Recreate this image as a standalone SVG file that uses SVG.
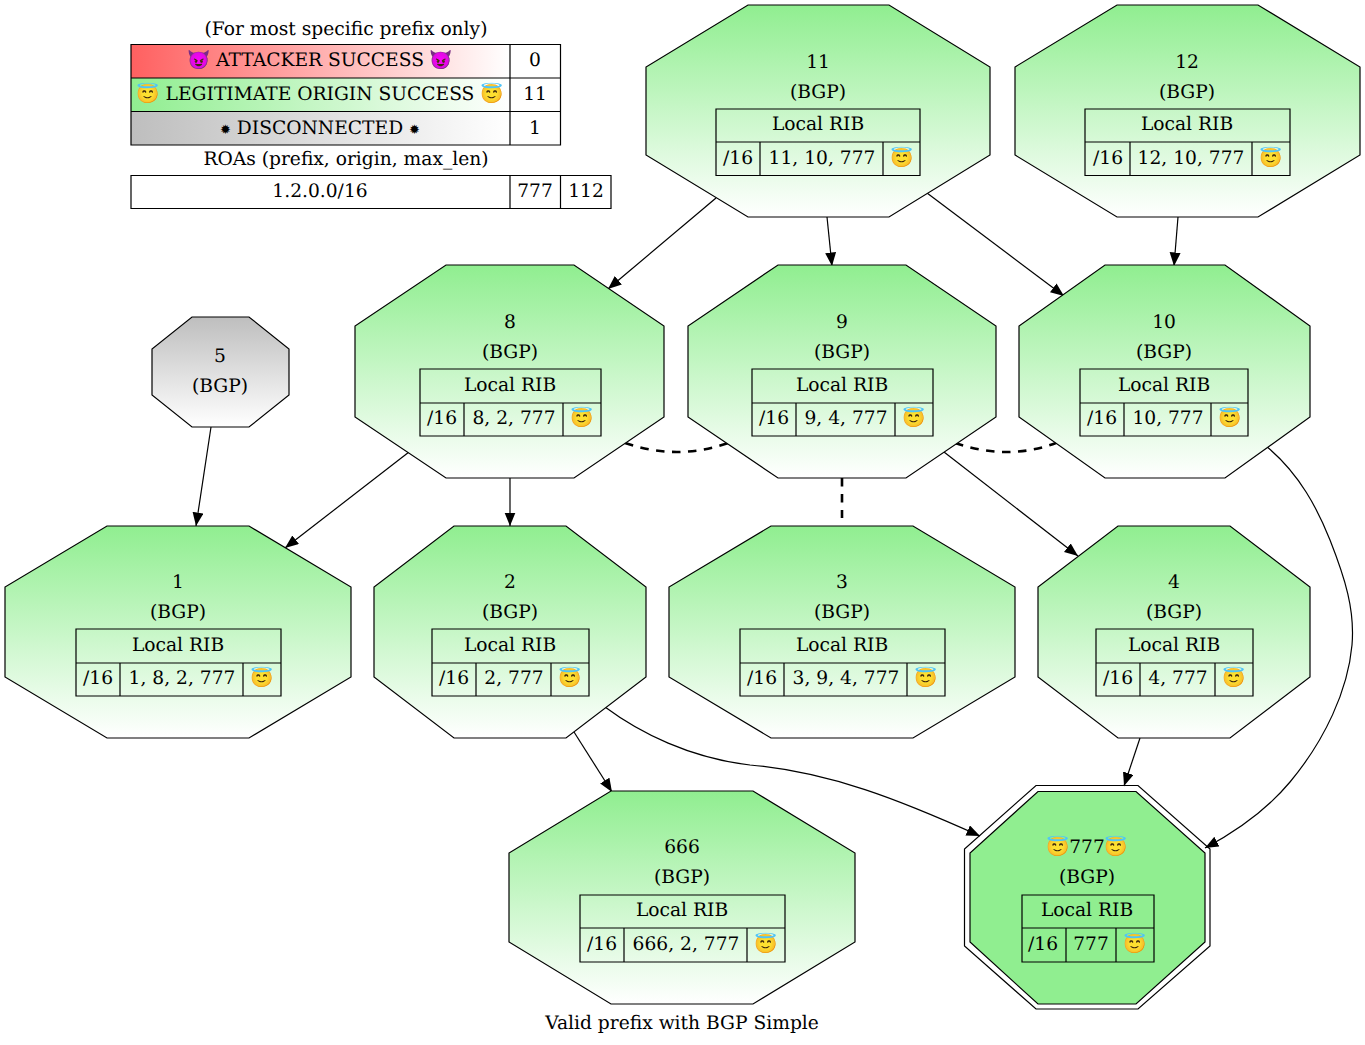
<svg xmlns="http://www.w3.org/2000/svg" width="1365" height="1045" viewBox="0 0 1365 1045">
<style>
text{font-family:"DejaVu Serif","Noto Color Emoji",serif;font-size:18.67px;text-anchor:middle;fill:#000;text-rendering:geometricPrecision}
.oct{fill:url(#gg);stroke:#000;stroke-width:1.2}
.t{fill:none;stroke:#000;stroke-width:1.2}
.e{fill:none;stroke:#000;stroke-width:1.2;marker-end:url(#ah)}
.d{fill:none;stroke:#000;stroke-width:2.6;stroke-dasharray:8.5 7.5}
.s{font-size:13px}
</style>
<defs>
<linearGradient id="gg" x1="0" y1="0" x2="0" y2="1"><stop offset="0" stop-color="#90ee90"/><stop offset="1" stop-color="#fff"/></linearGradient>
<linearGradient id="gy" x1="0" y1="0" x2="0" y2="1"><stop offset="0" stop-color="#bebebe"/><stop offset="1" stop-color="#fff"/></linearGradient>
<linearGradient id="lr"><stop offset="0" stop-color="#ff6060"/><stop offset="1" stop-color="#fff"/></linearGradient>
<linearGradient id="lg"><stop offset="0" stop-color="#90ee90"/><stop offset="1" stop-color="#fff"/></linearGradient>
<linearGradient id="ly"><stop offset="0" stop-color="#bebebe"/><stop offset="1" stop-color="#fff"/></linearGradient>
<marker id="ah" markerUnits="userSpaceOnUse" markerWidth="14" markerHeight="12" refX="13.5" refY="5.5" orient="auto"><path d="M0 0L13.5 5.5L0 11Z" fill="#000"/></marker>
</defs>
<g id="legend">
<text x="346" y="35">(For most specific prefix only)</text>
<rect x="131" y="44.500" width="379" height="33.500" fill="url(#lr)"/>
<rect x="131" y="78" width="379" height="33.500" fill="url(#lg)"/>
<rect x="131" y="111.500" width="379" height="33.500" fill="url(#ly)"/>
<path class="t" d="M131 44.500H560.500V145H131ZM131 78H560.500M131 111.500H560.500M510 44.500V145"/>
<text x="320" y="66">😈 ATTACKER SUCCESS 😈</text><text x="535" y="66">0</text>
<text x="320" y="100">😇 LEGITIMATE ORIGIN SUCCESS 😇</text><text x="535" y="100">11</text>
<text x="320" y="133.500"><tspan class="s">✹</tspan> DISCONNECTED <tspan class="s">✹</tspan></text><text x="535" y="133.500">1</text>
<text x="346" y="165">ROAs (prefix, origin, max_len)</text>
<path class="t" d="M131 175.500H611V208.500H131ZM510 175.500V208.500M560.500 175.500V208.500"/>
<text x="320" y="197">1.2.0.0/16</text><text x="535" y="197">777</text><text x="586" y="197">112</text>
</g>
<g id="connectors">
<path class="e" d="M716 198L608 289"/>
<path class="e" d="M827 217L832 266"/>
<path class="e" d="M927 193L1064 296"/>
<path class="e" d="M1178 217L1174 266"/>
<path class="e" d="M211 427L196 526"/>
<path class="e" d="M409 452L285 548"/>
<path class="e" d="M510 478V526"/>
<path class="e" d="M944 452L1078 556"/>
<path class="d" d="M842 478V518"/>
<path class="d" d="M625 443C660 455 694 455 728 443"/>
<path class="d" d="M955 443C990 455 1024 455 1056 443"/>
<path class="e" d="M1266 446C1300 474 1318 510 1330 540C1345 578 1355 610 1352 645C1348 690 1325 740 1290 782C1265 812 1235 832 1205 848"/>
<path class="e" d="M574 732L612 792"/>
<path class="e" d="M605 707C640 733 690 758 750 765C830 772 900 800 980 836"/>
<path class="e" d="M1140 738L1124 786"/>
</g>
<g id="n11"><path class="oct" d="M748 5H889L990 67V155L889 217H748L646 155V67Z"/><text x="818" y="68">11</text><text x="818" y="98">(BGP)</text><path class="t" d="M716 109H920V175.500H716ZM716 142H920M760 142V175.500M883 142V175.500"/><text x="818" y="130">Local RIB</text><text x="738" y="164">/16</text><text x="822" y="164">11, 10, 777</text><text x="902" y="164">😇</text></g>
<g id="n12"><path class="oct" d="M1117 5H1258L1360 67V155L1258 217H1117L1015 155V67Z"/><text x="1187" y="68">12</text><text x="1187" y="98">(BGP)</text><path class="t" d="M1085 109H1290V175.500H1085ZM1085 142H1290M1130 142V175.500M1252 142V175.500"/><text x="1187" y="130">Local RIB</text><text x="1108" y="164">/16</text><text x="1191" y="164">12, 10, 777</text><text x="1271" y="164">😇</text></g>
<g id="n8"><path class="oct" d="M446 265H574L664 326V417L574 478H446L355 417V326Z"/><text x="510" y="328">8</text><text x="510" y="358">(BGP)</text><path class="t" d="M420 369H601V436H420ZM420 403H601M464 403V436M563 403V436"/><text x="510" y="391">Local RIB</text><text x="442" y="424">/16</text><text x="514" y="424">8, 2, 777</text><text x="582" y="424">😇</text></g>
<g id="n9"><path class="oct" d="M778 265H906L996 326V417L906 478H778L688 417V326Z"/><text x="842" y="328">9</text><text x="842" y="358">(BGP)</text><path class="t" d="M752 369H933V436H752ZM752 403H933M796 403V436M895 403V436"/><text x="842" y="391">Local RIB</text><text x="774" y="424">/16</text><text x="846" y="424">9, 4, 777</text><text x="914" y="424">😇</text></g>
<g id="n10"><path class="oct" d="M1105 265H1225L1310 326V417L1225 478H1105L1019 417V326Z"/><text x="1164" y="328">10</text><text x="1164" y="358">(BGP)</text><path class="t" d="M1080 369H1248V436H1080ZM1080 403H1248M1124 403V436M1211 403V436"/><text x="1164" y="391">Local RIB</text><text x="1102" y="424">/16</text><text x="1168" y="424">10, 777</text><text x="1230" y="424">😇</text></g>
<g id="n5"><path d="M192 317H249L289 349V395L249 427H192L152 395V349Z" fill="url(#gy)" stroke="#000" stroke-width="1.2"/><text x="220" y="362">5</text><text x="220" y="392">(BGP)</text></g>
<g id="n1"><path class="oct" d="M107 526H249L351 587V677L249 738H107L5 677V587Z"/><text x="178" y="588">1</text><text x="178" y="618">(BGP)</text><path class="t" d="M76 629H281V696H76ZM76 663H281M120 663V696M243 663V696"/><text x="178" y="651">Local RIB</text><text x="98" y="684">/16</text><text x="182" y="684">1, 8, 2, 777</text><text x="262" y="684">😇</text></g>
<g id="n2"><path class="oct" d="M454 526H566L646 587V677L566 738H454L374 677V587Z"/><text x="510" y="588">2</text><text x="510" y="618">(BGP)</text><path class="t" d="M432 629H589V696H432ZM432 663H589M476 663V696M551 663V696"/><text x="510" y="651">Local RIB</text><text x="454" y="684">/16</text><text x="514" y="684">2, 777</text><text x="570" y="684">😇</text></g>
<g id="n3"><path class="oct" d="M771 526H913L1015 587V677L913 738H771L669 677V587Z"/><text x="842" y="588">3</text><text x="842" y="618">(BGP)</text><path class="t" d="M740 629H945V696H740ZM740 663H945M784 663V696M907 663V696"/><text x="842" y="651">Local RIB</text><text x="762" y="684">/16</text><text x="846" y="684">3, 9, 4, 777</text><text x="926" y="684">😇</text></g>
<g id="n4"><path class="oct" d="M1118 526H1230L1310 587V677L1230 738H1118L1038 677V587Z"/><text x="1174" y="588">4</text><text x="1174" y="618">(BGP)</text><path class="t" d="M1096 629H1253V696H1096ZM1096 663H1253M1140 663V696M1215 663V696"/><text x="1174" y="651">Local RIB</text><text x="1118" y="684">/16</text><text x="1178" y="684">4, 777</text><text x="1234" y="684">😇</text></g>
<g id="n666"><path class="oct" d="M611 791H753L855 853V942L753 1004H611L509 942V853Z"/><text x="682" y="853">666</text><text x="682" y="883">(BGP)</text><path class="t" d="M580 895H785V962H580ZM580 928H785M624 928V962M747 928V962"/><text x="682" y="916">Local RIB</text><text x="602" y="950">/16</text><text x="686" y="950">666, 2, 777</text><text x="766" y="950">😇</text></g>
<g id="n777"><path d="M1038 791.500H1136L1205 853V942L1136 1004H1038L970 942V853Z" fill="#90ee90" stroke="#000" stroke-width="1.2"/><path class="t" d="M1036 785.500H1138L1210 849V946L1138 1009H1036L964.500 946V849Z"/><text x="1087" y="853">😇777😇</text><text x="1087" y="883">(BGP)</text><path class="t" d="M1022 895H1154V962H1022ZM1022 928H1154M1066 928V962M1116 928V962"/><text x="1087" y="916">Local RIB</text><text x="1043" y="950">/16</text><text x="1091" y="950">777</text><text x="1135" y="950">😇</text></g>
<text x="682" y="1029">Valid prefix with BGP Simple</text>
</svg>
